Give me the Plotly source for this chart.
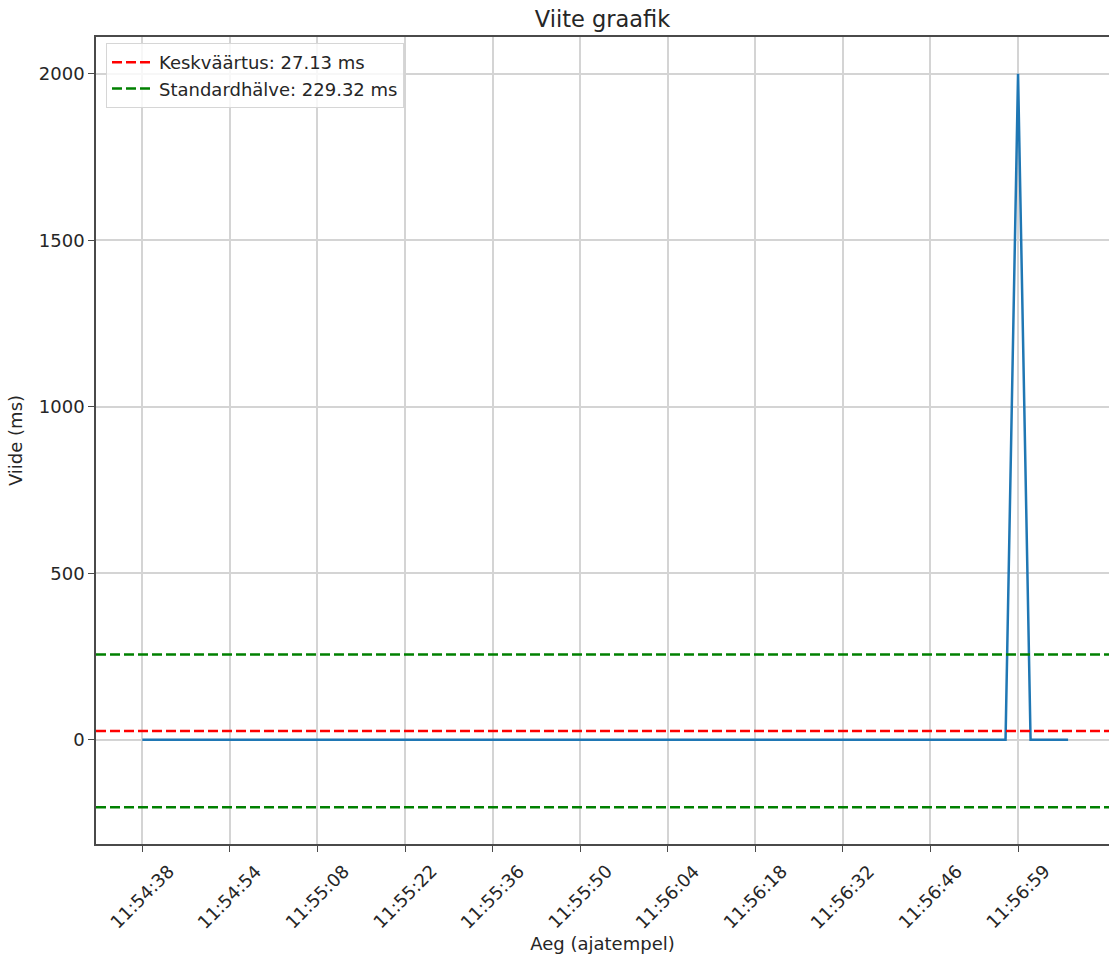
import plotly.graph_objects as go

# Latency samples (ms), one per ping, in measurement order
latency_ms = [
    0.52, 0.41, 0.47, 0.39, 0.55, 0.44, 0.48, 0.51, 0.43, 0.46,
    0.49, 0.42, 0.50, 0.45, 0.47, 0.53, 0.40, 0.48, 0.44, 0.51,
    0.46, 0.43, 0.49, 0.47, 0.52, 0.45, 0.41, 0.50, 0.48, 0.44,
    0.47, 0.53, 0.42, 0.46, 0.49, 0.45, 0.51, 0.43, 0.48, 0.47,
    0.44, 0.50, 0.46, 0.52, 0.41, 0.49, 0.45, 0.47, 0.43, 0.48,
    0.51, 0.46, 0.44, 0.50, 0.47, 0.42, 0.49, 0.45, 0.53, 0.46,
    0.48, 0.43, 0.47, 0.50, 0.44, 0.49, 0.46, 0.45, 0.48, 0.47,
    2000.0, 0.52, 0.44, 0.49, 0.46,
]
sample_index = list(range(len(latency_ms)))

# Timestamp labels shown on the time axis and the samples they belong to
tick_index = [0, 7, 14, 21, 28, 35, 42, 49, 56, 63, 70]
tick_labels = [
    "11:54:38", "11:54:54", "11:55:08", "11:55:22", "11:55:36", "11:55:50",
    "11:56:04", "11:56:18", "11:56:32", "11:56:46", "11:56:59",
]

# Summary statistics
mean_ms = 27.13
std_ms = 229.32

FONT = "DejaVu Sans"
TEXT = "#262626"
AXIS = "#4a4a4a"
GRID = "#d4d4d4"
FS = 18

fig = go.Figure()

fig.add_trace(go.Scatter(
    x=sample_index, y=latency_ms, mode="lines",
    line=dict(color="#1f77b4", width=2.5),
    showlegend=False, hoverinfo="x+y",
))

# Reference lines: mean and mean ± one standard deviation
fig.add_hline(y=mean_ms, line=dict(color="#ff0000", width=2.5, dash="10px,4px"))
fig.add_hline(y=mean_ms + std_ms, line=dict(color="#008000", width=2.5, dash="10px,4px"))
fig.add_hline(y=mean_ms - std_ms, line=dict(color="#008000", width=2.5, dash="10px,4px"))

# Legend entries for the reference lines
fig.add_trace(go.Scatter(
    x=[None], y=[None], mode="lines",
    line=dict(color="#ff0000", width=2.5, dash="10px,4px"),
    name=f"Keskväärtus: {mean_ms:.2f} ms",
))
fig.add_trace(go.Scatter(
    x=[None], y=[None], mode="lines",
    line=dict(color="#008000", width=2.5, dash="10px,4px"),
    name=f"Standardhälve: {std_ms:.2f} ms",
))

# Rotated timestamp labels, centred under each tick
for idx, lab in zip(tick_index, tick_labels):
    fig.add_annotation(
        x=idx, xref="x", y=0, yref="paper",
        xanchor="center", yanchor="top", yshift=-14,
        text=lab, textangle=-45, showarrow=False,
        font=dict(family=FONT, size=FS, color=TEXT),
    )

fig.update_layout(
    width=1109, height=954,
    margin=dict(l=96, r=0, t=37, b=110),
    paper_bgcolor="white", plot_bgcolor="white",
    font=dict(family=FONT, size=FS, color=TEXT),
    title=dict(
        text="Viite graafik", x=0.5, xref="paper",
        y=1 - 19 / 954, yanchor="middle",
        font=dict(family=FONT, size=22.5, color=TEXT),
    ),
    legend=dict(
        x=10 / 1013, y=1 - 6 / 807, xanchor="left", yanchor="top",
        bgcolor="rgba(255,255,255,0.8)", bordercolor="#d6d6d6", borderwidth=1,
        font=dict(family=FONT, size=FS, color=TEXT),
        itemwidth=42,
    ),
    showlegend=True,
)

fig.update_xaxes(
    range=[-3.7, 77.27],
    tickmode="array", tickvals=tick_index, ticktext=tick_labels,
    showticklabels=False,
    ticks="outside", ticklen=6, tickwidth=1.3, tickcolor=AXIS,
    showgrid=True, gridcolor=GRID, gridwidth=1.5, zeroline=False,
    showline=True, linecolor=AXIS, linewidth=1.5, mirror=True,
    title=dict(text="Aeg (ajatempel)", standoff=88,
               font=dict(family=FONT, size=FS, color=TEXT)),
)
fig.update_yaxes(
    range=[-312.3, 2110.1],
    tickmode="linear", tick0=0, dtick=500,
    ticks="outside", ticklen=6, tickwidth=1.3, tickcolor=AXIS,
    tickfont=dict(family=FONT, size=FS, color=TEXT),
    showgrid=True, gridcolor=GRID, gridwidth=1.5, zeroline=False,
    showline=True, linecolor=AXIS, linewidth=1.5,
    title=dict(text="Viide (ms)", standoff=12,
               font=dict(family=FONT, size=FS, color=TEXT)),
)

fig.write_html("out.html")
